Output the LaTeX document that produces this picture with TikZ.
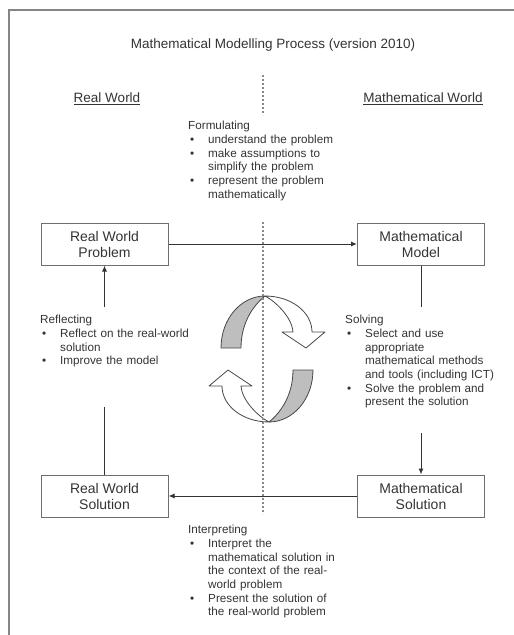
\documentclass[tikz,border=0pt]{standalone}
\usepackage{fontspec}
\setmainfont{Liberation Sans}
\usetikzlibrary{arrows.meta,positioning}
\definecolor{framecol}{HTML}{858585}
\definecolor{ink}{HTML}{333333}
\definecolor{boxline}{HTML}{6E6E6E}
\definecolor{dashcol}{HTML}{8A8A8A}
\definecolor{band}{HTML}{BEBEBE}
\newcommand{\bitem}[1]{\par\noindent\hangindent=20pt\hangafter=1\makebox[20pt][l]{\hspace{2pt}\textbullet}#1}

\begin{document}
\begin{tikzpicture}[x=1pt,y=-1pt,
  box/.style={rectangle,draw=boxline,line width=1pt,minimum width=127pt,minimum height=42pt,align=center,font=\fontsize{14}{16}\selectfont,text=ink,inner sep=0pt},
  note/.style={anchor=north west,inner sep=0pt,text width=160pt,align=left,font=\fontsize{11.7}{13.7}\selectfont,text=ink},
  head/.style={anchor=base,inner sep=0pt,font=\fontsize{13.5}{16}\selectfont,text=ink},
  conn/.style={draw=ink,line width=1pt},
  arr/.style={conn,-{Latex[length=6pt,width=5pt]}},
  turn/.style={draw=ink!90,line width=0.8pt,line join=round}
]
\useasboundingbox (0,0) rectangle (514,635);
\draw[framecol,line width=2pt] (8.5,635) -- (8.5,9.5) -- (514,9.5);

\node[head] (title) at (273,48.5) {Mathematical Modelling Process (version 2010)};
\node[head] (realw) at (107,102.5) {\underline{Real World}};
\node[head] (mathw) at (423,102.5) {\underline{Mathematical World}};

\node[box] (rwp) at (104.5,244) {Real World\\Problem};
\node[box] (mm) at (421,244) {Mathematical\\Model};
\node[box] (rws) at (104.5,496) {Real World\\Solution};
\node[box] (ms) at (421,496) {Mathematical\\Solution};

\node[note] (form) at (188,121) {\noindent Formulating
  \bitem{understand the problem}
  \bitem{make assumptions to\newline simplify the problem}
  \bitem{represent the problem\newline mathematically}\par};
\node[note] (refl) at (40,315) {\noindent Reflecting
  \bitem{Reflect on the real-world\newline solution}
  \bitem{Improve the model}\par};
\node[note] (solv) at (345,315) {\noindent Solving
  \bitem{Select and use\newline appropriate\newline mathematical methods\newline and tools (including ICT)}
  \bitem{Solve the problem and\newline present the solution}\par};
\node[note] (interp) at (188,525) {\noindent Interpreting
  \bitem{Interpret the\newline mathematical solution in\newline the context of the real-\newline world problem}
  \bitem{Present the solution of\newline the real-world problem}\par};

\coordinate (mmfoot) at (421,307);
\coordinate (reflhead) at (104.5,307);
\coordinate (rwsneck) at (104.5,407);
\coordinate (solvfoot) at (421,433);

\draw[arr] (rwp) -- (mm);
\draw[conn] (mm) -- (mmfoot);
\draw[arr] (reflhead) -- (rwp);
\draw[conn] (rwsneck) -- (rws);
\draw[arr] (solvfoot) -- (ms);
\draw[arr] (ms) -- (rws);

\foreach \ang in {0,180}{
  \begin{scope}[shift={(267,359)},rotate=\ang]
    \filldraw[turn,fill=band] (-46,-11) .. controls (-46,-40) and (-26,-63) .. (-2,-63)
      .. controls (-12,-55) and (-26,-38) .. (-26,-11) -- cycle;
    \filldraw[turn,fill=white] (-2,-63) .. controls (24,-63) and (45,-47) .. (45,-27)
      -- (58,-27) -- (39,-11) -- (15,-27) -- (26,-27)
      .. controls (25,-42) and (8,-58) .. (-2,-63) -- cycle;
  \end{scope}
}

\coordinate (dtop1) at (263,75);
\coordinate (dtop2) at (263,115);
\coordinate (dlow1) at (263,222);
\coordinate (dlow2) at (263,514);
\draw[dashcol,line width=1.3pt,dash pattern=on 2pt off 2pt] (dtop1) -- (dtop2);
\draw[dashcol,line width=1.3pt,dash pattern=on 2pt off 2pt] (dlow1) -- (dlow2);
\end{tikzpicture}
\end{document}
